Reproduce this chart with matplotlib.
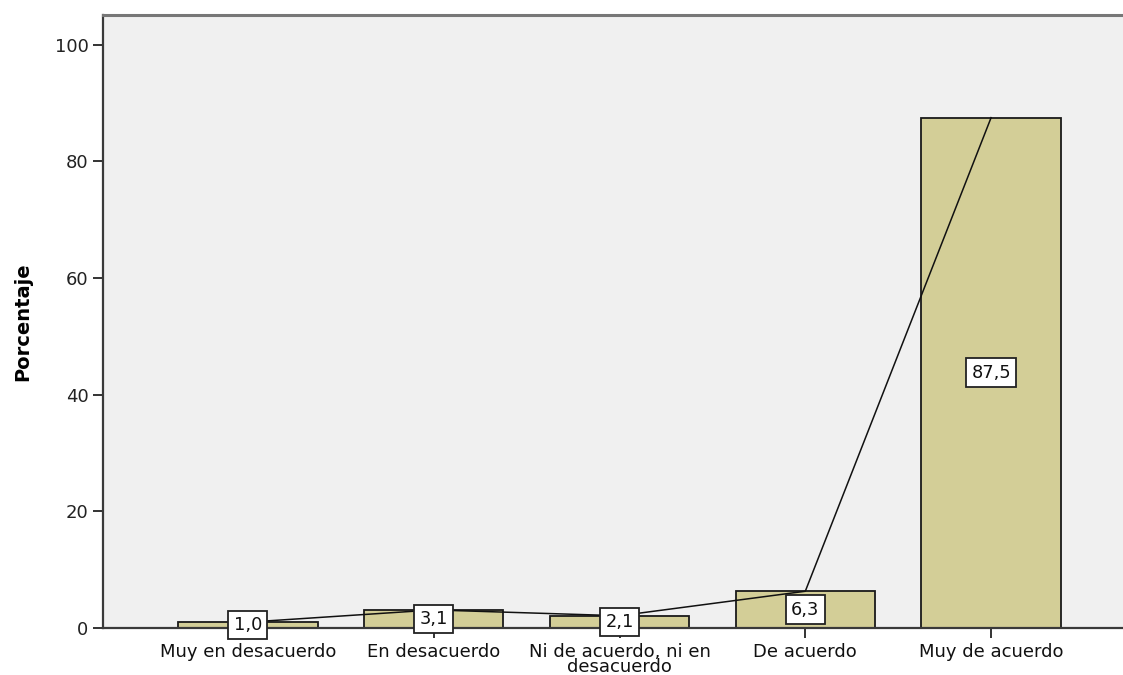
import matplotlib
matplotlib.use("Agg")
import matplotlib.pyplot as plt
import numpy as np

categories = ["Muy en desacuerdo", "En desacuerdo", "Ni de acuerdo, ni en\ndesacuerdo",
              "De acuerdo", "Muy de acuerdo"]
percentages = [1.0, 3.1, 2.1, 6.3, 87.5]
value_labels = ["1,0", "3,1", "2,1", "6,3", "87,5"]
y_ticks = [0, 20, 40, 60, 80, 100]

plt.rcParams["font.family"] = ["DejaVu Sans"]

fig = plt.figure(figsize=(11.23, 6.75), dpi=100)
ax = fig.add_axes([103 / 1123, 47 / 675, 1020 / 1123, 613 / 675])
ax.set_facecolor("#F0F0F0")

x = np.arange(len(categories))
ax.bar(x, percentages, width=0.75, color="#D3CE97", edgecolor="#1a1a1a",
       linewidth=1.3, zorder=2)
ax.plot(x, percentages, color="#111111", linewidth=1.1, zorder=3)

for xi, v, lab in zip(x, percentages, value_labels):
    ax.text(xi, v / 2, lab, ha="center", va="center", fontsize=12.8, zorder=4,
            color="#111111",
            bbox=dict(boxstyle="square,pad=0.3", facecolor="white",
                      edgecolor="#222222", linewidth=1.3))

ax.set_xlim(-0.78, 4.71)
ax.set_ylim(0, 105.1)
ax.set_yticks(y_ticks)
ax.set_yticklabels([str(t) for t in y_ticks], fontsize=13, color="#222222")
ax.set_xticks(x)
ax.set_xticklabels(categories, fontsize=13, color="#111111", linespacing=0.78)
ax.tick_params(axis="both", length=7.5, width=1.4, color="#333333", pad=3)
ax.set_ylabel("Porcentaje", fontsize=14, fontweight="bold")
ax.yaxis.set_label_coords(-0.069, 0.5)

for side in ["left", "bottom"]:
    ax.spines[side].set_color("#3a3a3a")
    ax.spines[side].set_linewidth(1.6)
ax.spines["top"].set_color("#777777")
ax.spines["top"].set_linewidth(2.2)
ax.spines["right"].set_visible(False)

fig.savefig("out.png", dpi=100, facecolor="white")
